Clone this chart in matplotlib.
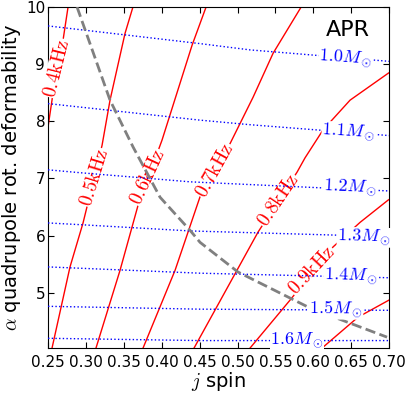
import numpy as np
import matplotlib
matplotlib.use("Agg")
import matplotlib.pyplot as plt

plt.rcParams['mathtext.fontset'] = 'cm'

# frequency contours (j, alpha)
freq_names = ['0.4', '0.5', '0.6', '0.7', '0.8', '0.9', '1.0']
freq_j = [
    [0.250, 0.2615, 0.2698, 0.2764],
    [0.2553, 0.279, 0.2962, 0.3213, 0.3318, 0.3516, 0.362],
    [0.3133, 0.345, 0.3688, 0.4004, 0.440, 0.4585],
    [0.3754, 0.4176, 0.4506, 0.4902, 0.5205, 0.5469, 0.5839],
    [0.4427, 0.5271, 0.5786, 0.5891, 0.6129, 0.6485, 0.6987, 0.70],
    [0.5166, 0.5694, 0.6261, 0.6617, 0.6987, 0.70],
    [0.6116, 0.659, 0.70],
]
freq_a = [
    [7.90, 8.93, 9.42, 10.0],
    [4.03, 5.45, 6.22, 7.58, 8.37, 9.54, 10.0],
    [4.03, 5.39, 6.53, 7.67, 9.33, 10.0],
    [4.03, 5.39, 6.68, 7.61, 8.42, 9.19, 10.0],
    [4.03, 6.06, 7.11, 7.36, 7.85, 8.37, 8.84, 8.85],
    [4.03, 4.87, 5.80, 6.23, 6.62, 6.63],
    [4.03, 4.57, 4.87],
]
# label positions and angles for the frequency contours
freq_lab_j = [0.2617, 0.3107, 0.382, 0.4704, 0.5535, 0.5984, None]
freq_lab_a = [8.93, 7.02, 7.02, 7.14, 6.62, 5.39, None]
freq_lab_rot = [76, 73, 65, 61, 56, 47, 0]

# mass lines
mass_names = ['1.0', '1.1', '1.2', '1.3', '1.4', '1.5', '1.6']
mass_j = [
    [0.25, 0.4506, 0.5166, 0.70],
    [0.25, 0.4506, 0.5166, 0.70],
    [0.25, 0.292, 0.4374, 0.70],
    [0.25, 0.292, 0.4374, 0.70],
    [0.25, 0.4506, 0.70],
    [0.25, 0.4506, 0.70],
    [0.25, 0.4506, 0.70],
]
mass_a = [
    [9.67, 9.36, 9.25, 9.05],
    [8.31, 8.02, 7.94, 7.75],
    [7.15, 7.10, 6.94, 6.78],
    [6.22, 6.19, 6.08, 5.98],
    [5.45, 5.34, 5.26],
    [4.76, 4.71, 4.69],
    [4.20, 4.16, 4.16],
]
mass_lab_j = [0.643, 0.647, 0.6485, 0.667, 0.650, 0.630, 0.5786]
mass_lab_a = [9.11, 7.81, 6.83, 5.97, 5.29, 4.71, 4.17]
mass_lab_rot = [-4, -3.5, -2.5, -1.5, -1.5, -0.5, 0]

# dashed boundary curve
bound_j = [0.2883, 0.3318, 0.3622, 0.3978, 0.4374, 0.4506, 0.5007, 0.5957, 0.6973]
bound_a = [10.0, 8.37, 7.55, 6.67, 6.09, 5.88, 5.36, 4.73, 4.22]

fig = plt.figure(figsize=(4.07, 3.93), dpi=100)
ax = fig.add_axes([0.118, 0.1145, 0.838, 0.8675])

for j, a in zip(freq_j, freq_a):
    ax.plot(j, a, color='r', lw=1, zorder=2)
for name, x, y, r in zip(freq_names, freq_lab_j, freq_lab_a, freq_lab_rot):
    if x is None:
        continue
    ax.text(x, y, r'$%s\mathrm{kHz}$' % name, color='r', fontsize=14,
            rotation=r, rotation_mode='anchor', ha='center', va='center',
            bbox=dict(fc='white', ec='none', pad=0.3), zorder=3)

for j, a in zip(mass_j, mass_a):
    ax.plot(j, a, color='b', lw=1, ls=':', zorder=4)

ax.plot(bound_j, bound_a, color='gray', lw=2, ls='--', zorder=4)

for name, x, y, r in zip(mass_names, mass_lab_j, mass_lab_a, mass_lab_rot):
    ax.text(x, y, r'$%sM_\odot$' % name, color='b', fontsize=13,
            rotation=r, rotation_mode='anchor', ha='center', va='center',
            bbox=dict(fc='white', ec='none', pad=0.3), zorder=5)

ax.text(0.645, 9.6, 'APR', fontsize=16, ha='center', va='center')

ax.set_xlim(0.25, 0.70)
ax.set_ylim(4.03, 10)
ax.set_xticks(np.arange(0.25, 0.701, 0.05))
ax.set_xticklabels(['%.2f' % v for v in np.arange(0.25, 0.701, 0.05)])
ax.set_yticks([5, 6, 7, 8, 9, 10])
ax.tick_params(direction='in', top=True, right=True, length=4, labelsize=11)
ax.tick_params(axis='x', pad=5)
ax.tick_params(axis='y', pad=2)
ax.set_xlabel(r'$j$ spin', fontsize=14, labelpad=0)
ax.set_ylabel(r'$\alpha$ quadrupole rot. deformability', fontsize=14, labelpad=2)

plt.savefig('out.png', dpi=100)
